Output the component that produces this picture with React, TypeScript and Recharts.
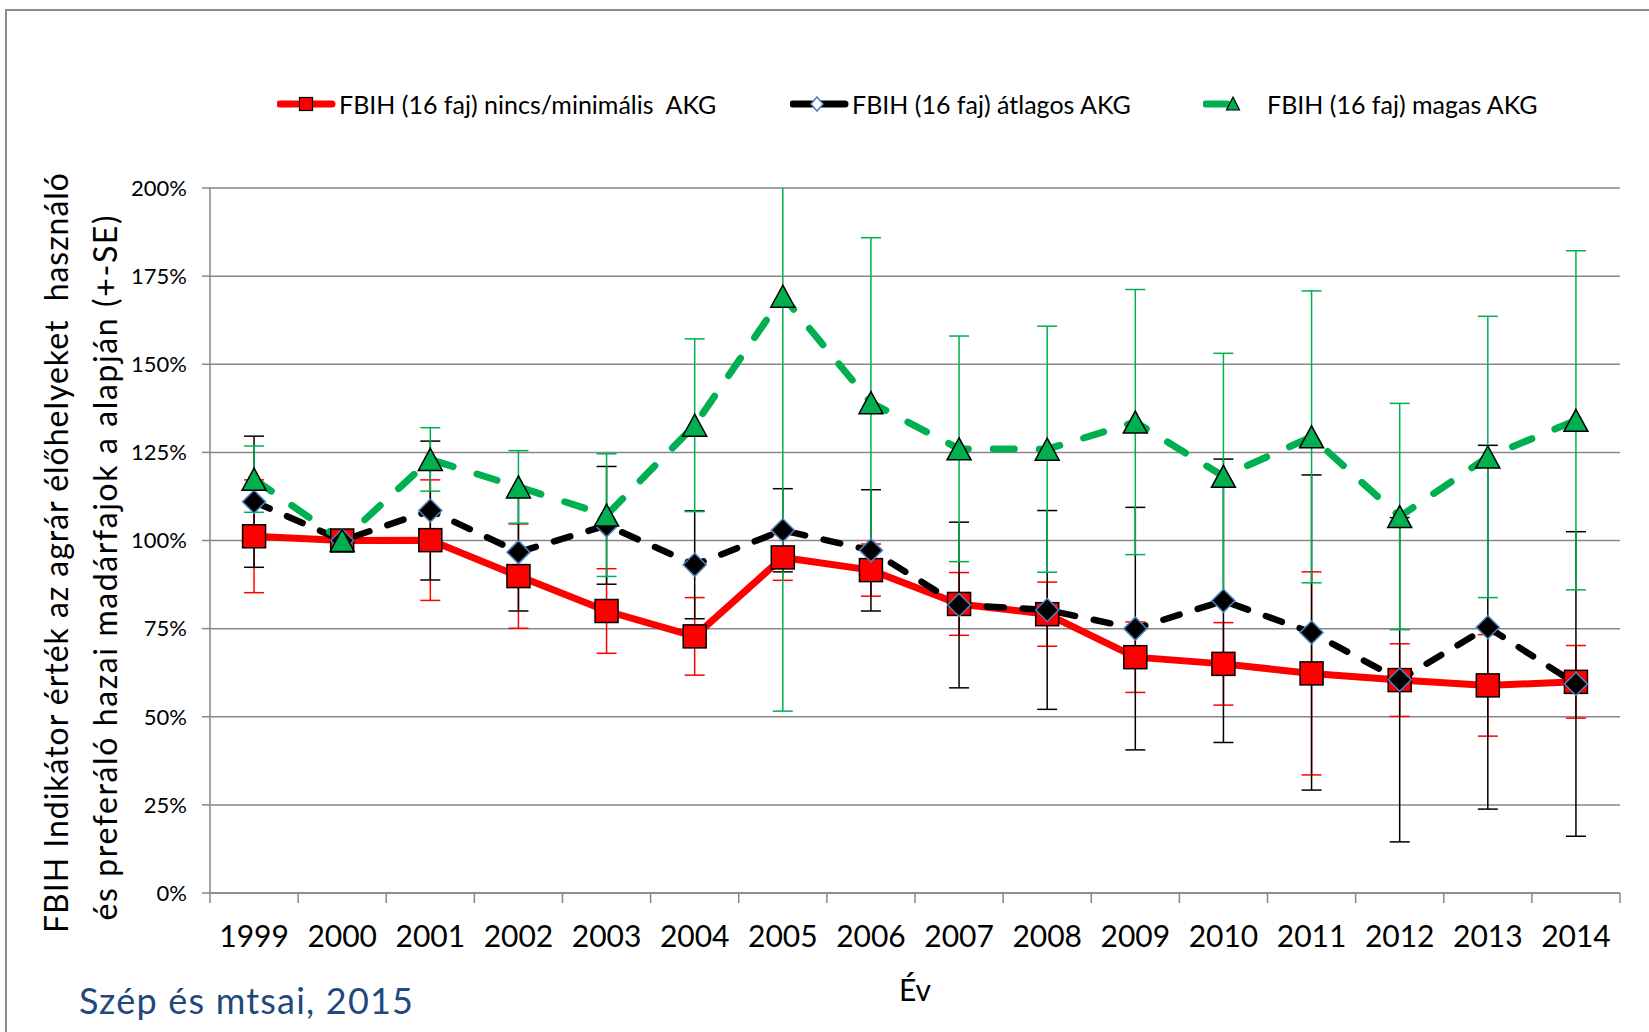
import React from 'react';
import { LineChart, Line, XAxis, YAxis, CartesianGrid, ErrorBar, Legend } from 'recharts';

// ---------- data ----------
const years = ['1999', '2000', '2001', '2002', '2003', '2004', '2005', '2006', '2007', '2008', '2009', '2010', '2011', '2012', '2013', '2014'];

const noneValues = [101.2, 100, 100.1, 89.9, 80.0, 72.8, 95.2, 91.6, 82.0, 79.1, 66.9, 65.0, 62.3, 60.4, 58.9, 59.9];
const noneErrors = [16.0, 0, 17.1, 14.8, 12.0, 11.0, 6.5, 7.4, 8.9, 9.1, 10.0, 11.7, 28.8, 10.3, 14.4, 10.3];

const avgValues = [111.0, 100, 108.5, 96.7, 104.3, 93.1, 102.9, 97.2, 81.7, 80.3, 75.0, 82.9, 73.9, 60.5, 75.4, 59.3];
const avgErrors = [18.6, 0, 19.7, 16.7, 16.7, 15.3, 11.8, 17.2, 23.5, 28.2, 34.4, 40.2, 44.7, 46.0, 51.6, 43.2];

const highValues = [117.4, 100, 123.0, 115.2, 107.2, 132.7, 169.3, 139.1, 126.0, 125.9, 133.6, 118.2, 129.4, 106.8, 123.7, 134.1];
const highErrors = [9.4, 0, 9.0, 10.3, 17.4, 24.5, 117.7, 46.8, 32.0, 34.9, 37.6, 34.9, 41.4, 32.1, 39.9, 48.1];

const yTicks = [0, 25, 50, 75, 100, 125, 150, 175, 200];

const seriesNames = [
  'FBIH (16 faj) nincs/minimális  AKG',
  'FBIH (16 faj) átlagos AKG',
  'FBIH (16 faj) magas AKG',
];

const yTitleLines = [
  'FBIH Indikátor érték az agrár élőhelyeket  használó',
  'és preferáló hazai madárfajok a alapján (+-SE)',
];
const xTitle = 'Év';
const sourceNote = 'Szép és mtsai, 2015';

const data = years.map((year, i) => ({
  year,
  none: noneValues[i],
  noneErr: noneErrors[i],
  avg: avgValues[i],
  avgErr: avgErrors[i],
  high: highValues[i],
  highErr: highErrors[i],
}));

// ---------- styles ----------
const FONT = 'Lato, "Open Sans", "DejaVu Sans", sans-serif';
const RED = '#FF0000';
const GREEN = '#00B050';
const BLACK = '#000000';
const BLUE = '#4F81BD';
const GRID = '#878787';

const CHART_W = 1649;
const CHART_H = 1032;
const MARGIN = { top: 188, right: 29, bottom: 0, left: 0 };
const Y_AXIS_W = 210;
const X_AXIS_H = 139;

// ---------- markers ----------
const SquareDot = (props: any) => {
  const { cx, cy, index } = props;
  if (cx == null || cy == null) return <g key={`sq-${index}`} />;
  const s = 23;
  return (
    <rect key={`sq-${index}`} x={cx - s / 2} y={cy - s / 2} width={s} height={s}
      fill={RED} stroke={BLACK} strokeWidth={1.5} />
  );
};

const DiamondDot = (props: any) => {
  const { cx, cy, index } = props;
  if (cx == null || cy == null) return <g key={`dm-${index}`} />;
  const h = 11.5;
  return (
    <polygon key={`dm-${index}`}
      points={`${cx},${cy - h} ${cx + h},${cy} ${cx},${cy + h} ${cx - h},${cy}`}
      fill={BLACK} stroke={BLUE} strokeWidth={1.5} />
  );
};

const TriangleDot = (props: any) => {
  const { cx, cy, index } = props;
  if (cx == null || cy == null) return <g key={`tr-${index}`} />;
  const w = 12;
  const h = 11;
  return (
    <polygon key={`tr-${index}`}
      points={`${cx},${cy - h} ${cx + w},${cy + h} ${cx - w},${cy + h}`}
      fill={GREEN} stroke={BLACK} strokeWidth={1.5} />
  );
};

// ---------- axis ticks / titles ----------
const YearTick = (props: any) => {
  const { x, y, payload, index, width, visibleTicksCount } = props;
  const half = payload && payload.offset ? payload.offset : width / visibleTicksCount / 2;
  const axisY = y - 10;
  const isLast = index === visibleTicksCount - 1;
  return (
    <g>
      <line x1={x - half} y1={axisY} x2={x - half} y2={axisY + 10} stroke={GRID} strokeWidth={1.5} />
      {isLast && (
        <line x1={x + half} y1={axisY} x2={x + half} y2={axisY + 10} stroke={GRID} strokeWidth={1.5} />
      )}
      <text x={x} y={axisY + 54} textAnchor="middle" fontSize={30} fontFamily={FONT} fill="#000">
        {payload.value}
      </text>
    </g>
  );
};

const YTitle = () => (
  <g>
    <text transform="translate(68,553) rotate(-90)" textAnchor="middle" fontSize={32} fontFamily={FONT} fill="#000"
      textLength={760} lengthAdjust="spacing" style={{ whiteSpace: 'pre' }}>
      {yTitleLines[0]}
    </text>
    <text transform="translate(117,568) rotate(-90)" textAnchor="middle" fontSize={32} fontFamily={FONT} fill="#000"
      textLength={705} lengthAdjust="spacing">
      {yTitleLines[1]}
    </text>
  </g>
);

const XTitle = () => (
  <text x={915} y={1001} textAnchor="middle" fontSize={30} fontFamily={FONT} fill="#000">
    {xTitle}
  </text>
);

// ---------- legend ----------
const legendLayout = [
  { left: 277, kind: 'square', color: RED },
  { left: 790, kind: 'diamond', color: BLACK },
  { left: 1203, kind: 'triangle', color: GREEN },
];

const LegendIcon = ({ kind, color }: { kind: string; color: string }) => (
  <svg width={60} height={20} style={{ display: 'block' }}>
    {kind === 'triangle' ? (
      <line x1={3} y1={10} x2={24} y2={10} stroke={color} strokeWidth={7} strokeLinecap="round" />
    ) : (
      <line x1={3} y1={10} x2={55} y2={10} stroke={color} strokeWidth={7} strokeLinecap="round" />
    )}
    {kind === 'square' && <rect x={22.5} y={3.5} width={13} height={13} fill={RED} stroke={BLACK} strokeWidth={1.2} />}
    {kind === 'diamond' && <polygon points="27,3 33,10 27,17 21,10" fill="#fff" stroke={BLUE} strokeWidth={1.5} />}
    {kind === 'triangle' && <polygon points="30,3 36.5,16 23.5,16" fill={GREEN} stroke={BLACK} strokeWidth={1.2} />}
  </svg>
);

const renderLegend = () => (
  <div style={{ position: 'relative', width: CHART_W, height: 40 }}>
    {legendLayout.map((item, i) => (
      <div key={i} style={{ position: 'absolute', left: item.left, top: 0, display: 'flex', alignItems: 'center', height: 40 }}>
        <LegendIcon kind={item.kind} color={item.color} />
        <span style={{ fontFamily: FONT, fontSize: 25, color: '#000', whiteSpace: 'pre', marginLeft: item.kind === 'triangle' ? 4 : 2 }}>
          {seriesNames[i]}
        </span>
      </div>
    ))}
  </div>
);

const plotLeft = MARGIN.left + Y_AXIS_W;
const plotTop = MARGIN.top;
const plotW = CHART_W - plotLeft - MARGIN.right;
const plotH = CHART_H - plotTop - MARGIN.bottom - X_AXIS_H;

export default function App() {
  return (
    <div style={{ position: 'absolute', left: 0, top: 0, width: CHART_W, height: CHART_H, background: '#fff', overflow: 'hidden' }}>
      <style>{`.recharts-errorBars, .recharts-errorBar { clip-path: url(#plotAreaClip); }`}</style>
      <svg width={0} height={0} style={{ position: 'absolute' }}>
        <defs>
          <clipPath id="plotAreaClip" clipPathUnits="userSpaceOnUse">
            <rect x={plotLeft} y={plotTop} width={plotW} height={plotH} />
          </clipPath>
        </defs>
      </svg>
      <div style={{ position: 'absolute', left: 5, top: 9, width: 1700, height: 1100, borderTop: '2px solid #8c8c8c', borderLeft: '2px solid #8c8c8c' }} />
      <div style={{ position: 'absolute', left: 0, top: 0 }}>
        <LineChart width={CHART_W} height={CHART_H} data={data} margin={MARGIN}>
          <CartesianGrid vertical={false} stroke={GRID} strokeWidth={1.5} />
          <XAxis
            dataKey="year"
            scale="band"
            height={X_AXIS_H}
            interval={0}
            axisLine={{ stroke: GRID, strokeWidth: 1.5 }}
            tickLine={false}
            tickSize={10}
            tickMargin={0}
            tick={<YearTick />}
            label={<XTitle />}
          />
          <YAxis
            width={Y_AXIS_W}
            domain={[0, 200]}
            ticks={yTicks}
            allowDataOverflow
            interval={0}
            axisLine={{ stroke: GRID, strokeWidth: 1.5 }}
            tickLine={{ stroke: GRID, strokeWidth: 1.5 }}
            tickSize={8}
            tickMargin={15}
            tickFormatter={(v: number) => `${v}%`}
            tick={{ fontSize: 22, fontFamily: FONT, fill: '#000' }}
            label={<YTitle />}
          />
          <Legend
            layout="horizontal"
            verticalAlign="middle"
            align="center"
            content={renderLegend}
            wrapperStyle={{ left: 0, top: 84, width: CHART_W, height: 40 }}
          />
          <Line
            dataKey="none"
            name={seriesNames[0]}
            stroke={RED}
            strokeWidth={7}
            dot={SquareDot}
            activeDot={false}
            isAnimationActive={false}
          >
            <ErrorBar dataKey="noneErr" width={10} stroke={RED} strokeWidth={1.5} direction="y" clipPath="url(#plotAreaClip)" />
          </Line>
          <Line
            dataKey="avg"
            name={seriesNames[1]}
            stroke={BLACK}
            strokeWidth={6.5}
            strokeDasharray="17 19"
            strokeLinecap="round"
            dot={DiamondDot}
            activeDot={false}
            isAnimationActive={false}
          >
            <ErrorBar dataKey="avgErr" width={10} stroke={BLACK} strokeWidth={1.5} direction="y" clipPath="url(#plotAreaClip)" />
          </Line>
          <Line
            dataKey="high"
            name={seriesNames[2]}
            stroke={GREEN}
            strokeWidth={7}
            strokeDasharray="21 25"
            strokeLinecap="round"
            dot={TriangleDot}
            activeDot={false}
            isAnimationActive={false}
          >
            <ErrorBar dataKey="highErr" width={10} stroke={GREEN} strokeWidth={1.5} direction="y" clipPath="url(#plotAreaClip)" />
          </Line>
        </LineChart>
      </div>
      <svg width={CHART_W} height={CHART_H} style={{ position: 'absolute', left: 0, top: 0, pointerEvents: 'none' }}>
        <text x={79} y={1014} fontSize={36} fontFamily={FONT} fill="#1F497D" textLength={334} lengthAdjust="spacing">{sourceNote}</text>
      </svg>
    </div>
  );
}
